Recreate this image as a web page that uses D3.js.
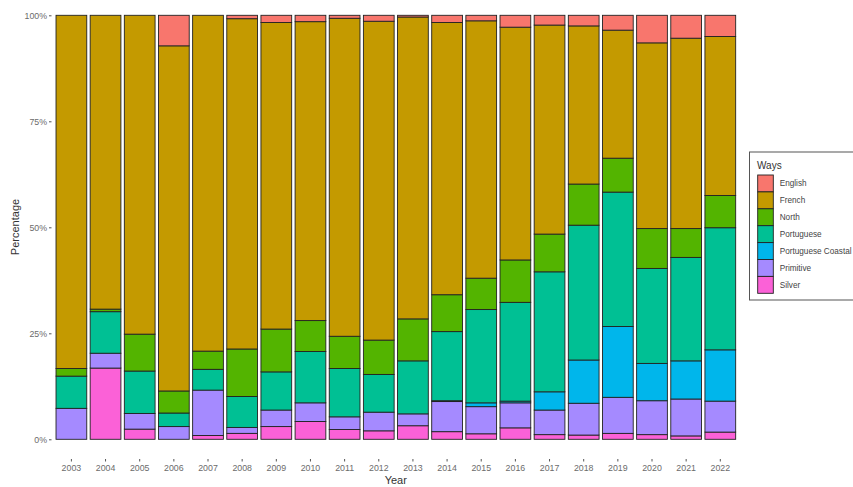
<!DOCTYPE html>
<html>
<head>
<meta charset="utf-8">
<script src="https://cdn.jsdelivr.net/npm/d3@7"></script>
<style>
  body { margin: 0; background: #fff; }
  svg { display: block; font-family: "Liberation Sans", Arial, sans-serif; }
</style>
</head>
<body>
<div id="chart"></div>
<script>
"use strict";

// data (percent share per year)
const years = ["2003","2004","2005","2006","2007","2008","2009","2010","2011","2012",
               "2013","2014","2015","2016","2017","2018","2019","2020","2021","2022"];
const ways = ["English", "French", "North", "Portuguese", "Portuguese Coastal", "Primitive", "Silver"];
const wayColors = ["#F8766D", "#C49A00", "#53B400", "#00C094", "#00B6EB", "#A58AFF", "#FB61D7"];

const silver     = [0, 16.8, 2.4, 0, 0.9, 1.4, 3.0, 4.2, 2.3, 2.0, 3.2, 1.8, 1.3, 2.7, 1.1, 1.0, 1.4, 1.1, 0.8, 1.7];
const primitive  = [7.3, 3.5, 3.7, 3.0, 10.7, 1.4, 3.9, 4.4, 3.0, 4.4, 2.8, 7.1, 6.4, 5.9, 5.8, 7.5, 8.5, 8.0, 8.7, 7.3];
const portCoast  = [0, 0, 0, 0, 0, 0, 0, 0, 0, 0, 0, 0.2, 0.9, 0.4, 4.3, 10.2, 16.7, 8.8, 9.0, 12.1];
const portuguese = [7.6, 9.8, 10.0, 3.2, 4.9, 7.3, 9.0, 12.1, 11.4, 8.9, 12.5, 16.3, 22.0, 23.3, 28.3, 31.8, 31.7, 22.4, 24.4, 28.8];
const north      = [1.8, 0.6, 8.7, 5.2, 4.3, 11.2, 10.1, 7.3, 7.6, 8.1, 9.9, 8.7, 7.4, 10.0, 8.9, 9.7, 8.0, 9.4, 6.8, 7.6];
const french     = [83.3, 69.3, 75.2, 81.4, 79.2, 77.9, 72.3, 70.5, 75.0, 75.2, 71.2, 64.2, 60.7, 54.9, 49.3, 37.3, 30.2, 43.8, 44.9, 37.5];
const english    = [0, 0, 0, 7.2, 0, 0.8, 1.7, 1.5, 0.7, 1.4, 0.4, 1.7, 1.3, 2.8, 2.3, 2.5, 3.5, 6.5, 5.4, 5.0];

const yTicks = [0, 0.25, 0.5, 0.75, 1];

// stacking order bottom -> top
const stackOrder = ["Silver", "Primitive", "Portuguese Coastal", "Portuguese", "North", "French", "English"];
const seriesByWay = {
    "English": english, "French": french, "North": north, "Portuguese": portuguese,
    "Portuguese Coastal": portCoast, "Primitive": primitive, "Silver": silver
};

const rows = years.map((y, i) => {
    const r = { year: y };
    for (const w of stackOrder) r[w] = seriesByWay[w][i];
    return r;
});

const width = 853, height = 487;
const svg = d3.select("#chart").append("svg")
    .attr("width", width).attr("height", height);

const x = d3.scaleBand()
    .domain(years)
    .range([50.9, 740.8])
    .paddingInner(0.1)
    .paddingOuter(0.15);

const y = d3.scaleLinear().domain([0, 1]).range([439.3, 15.3]);
const color = d3.scaleOrdinal().domain(ways).range(wayColors);

const stacked = d3.stack()
    .keys(stackOrder)
    .offset(d3.stackOffsetExpand)(rows);

// bars
svg.append("g")
    .selectAll("g")
    .data(stacked)
    .join("g")
    .attr("fill", d => color(d.key))
    .selectAll("rect")
    .data(d => d.filter(p => p[1] - p[0] > 0))
    .join("rect")
    .attr("x", d => x(d.data.year))
    .attr("width", x.bandwidth())
    .attr("y", d => y(d[1]))
    .attr("height", d => y(d[0]) - y(d[1]))
    .attr("stroke", "#222")
    .attr("stroke-width", 0.9);

// y axis
const yAxis = svg.append("g")
    .attr("transform", "translate(51.5,0)")
    .call(d3.axisLeft(y).tickValues(yTicks).tickFormat(d3.format(".0%")).tickSize(2.5).tickPadding(2));
yAxis.select(".domain").remove();
yAxis.selectAll("line").attr("stroke", "#555");
yAxis.selectAll("text").attr("fill", "#6b6b6b").style("font-size", "8.8px");

// x axis
const xAxis = svg.append("g")
    .attr("transform", "translate(0,459)")
    .call(d3.axisBottom(x).tickSize(2.5).tickPadding(3));
xAxis.select(".domain").remove();
xAxis.selectAll("line").attr("stroke", "#555");
xAxis.selectAll("text").attr("fill", "#6b6b6b").style("font-size", "8.8px");

// axis titles
svg.append("text")
    .attr("x", 395.8).attr("y", 484)
    .attr("text-anchor", "middle")
    .attr("fill", "#333")
    .style("font-size", "11px")
    .text("Year");

svg.append("text")
    .attr("transform", "translate(19,227) rotate(-90)")
    .attr("text-anchor", "middle")
    .attr("fill", "#333")
    .style("font-size", "11px")
    .text("Percentage");

// legend (box runs off the right edge, as in the reference)
const legend = svg.append("g");
legend.append("rect")
    .attr("x", 749.5).attr("y", 152)
    .attr("width", 130).attr("height", 148)
    .attr("fill", "#fff")
    .attr("stroke", "#555")
    .attr("stroke-width", 1);
legend.append("text")
    .attr("x", 757).attr("y", 168.5)
    .attr("fill", "#333")
    .style("font-size", "10px")
    .text("Ways");

const keyH = 16.9;
const item = legend.selectAll("g.key")
    .data(ways)
    .join("g")
    .attr("class", "key")
    .attr("transform", (d, i) => `translate(757.7,${175 + i * keyH})`);
item.append("rect")
    .attr("width", 15.6).attr("height", keyH)
    .attr("fill", d => color(d))
    .attr("stroke", "#222")
    .attr("stroke-width", 0.9);
item.append("text")
    .attr("x", 22).attr("y", keyH / 2)
    .attr("dy", "0.35em")
    .attr("fill", "#444")
    .style("font-size", "8.2px")
    .text(d => d);
</script>
</body>
</html>
